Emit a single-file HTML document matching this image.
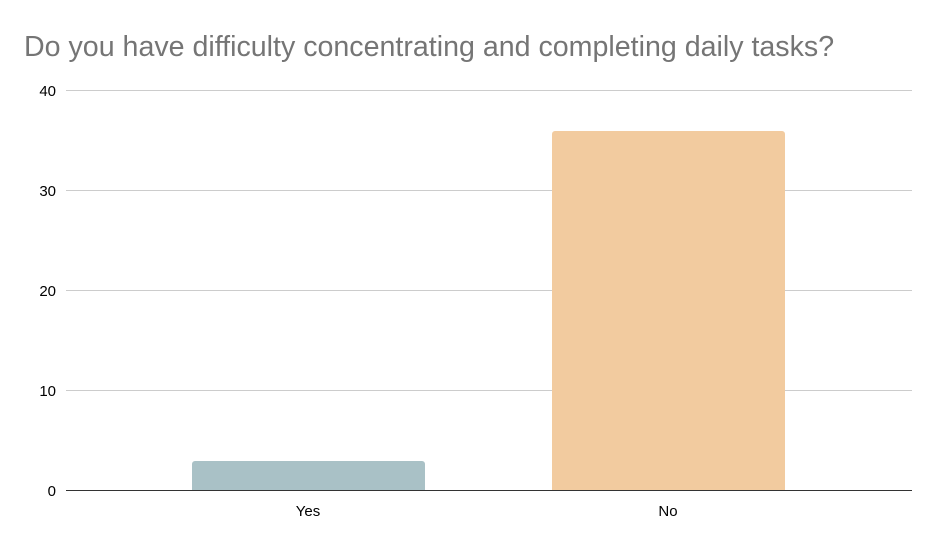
<!DOCTYPE html>
<html><head><style>
body{margin:0;background:#fff;}
</style></head><body>
<svg width="936" height="544" xmlns="http://www.w3.org/2000/svg" font-family="Liberation Sans, sans-serif">
<rect width="936" height="544" fill="#fff"/>
<text x="24" y="56" font-size="28.6" fill="#757575">Do you have difficulty concentrating and completing daily tasks?</text>
<g stroke="#cccccc" stroke-width="1">
<line x1="66" y1="90.5" x2="912" y2="90.5"/>
<line x1="66" y1="190.5" x2="912" y2="190.5"/>
<line x1="66" y1="290.5" x2="912" y2="290.5"/>
<line x1="66" y1="390.5" x2="912" y2="390.5"/>
</g>
<g font-size="15" fill="#000" text-anchor="end">
<text x="56" y="96">40</text>
<text x="56" y="196">30</text>
<text x="56" y="296">20</text>
<text x="56" y="396">10</text>
<text x="56" y="496">0</text>
</g>
<path d="M192,490 V464 a3,3 0 0 1 3,-3 H422 a3,3 0 0 1 3,3 V490 Z" fill="#a9c1c6"/>
<path d="M552,490 V134 a3,3 0 0 1 3,-3 H782 a3,3 0 0 1 3,3 V490 Z" fill="#f2cb9f"/>
<line x1="66" y1="490.5" x2="912" y2="490.5" stroke="#333" stroke-width="1"/>
<g font-size="15" fill="#000" text-anchor="middle">
<text x="308" y="516">Yes</text>
<text x="668" y="516">No</text>
</g>
</svg>
</body></html>
